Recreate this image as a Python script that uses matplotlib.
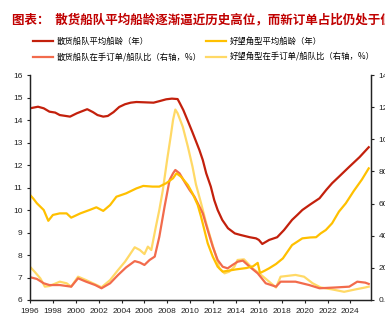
import matplotlib
matplotlib.use("Agg")
from matplotlib import pyplot as plt
from matplotlib.ticker import FormatStrFormatter

plt.rcParams['font.family'] = ['Noto Sans CJK SC', 'DejaVu Sans']

# 散货船队平均船龄（年）
red_x = [1996.0, 1996.7, 1997.2, 1997.7, 1998.2, 1998.6, 1999.5, 2000.1, 2000.6, 2001.0, 2001.5, 2001.9,
         2002.4, 2002.8, 2003.3, 2003.8, 2004.3, 2004.8, 2005.3, 2005.8, 2006.3, 2006.8, 2007.4, 2007.9,
         2008.4, 2008.9, 2009.1, 2009.4, 2009.8, 2010.2, 2010.8, 2011.1, 2011.4, 2011.8, 2012.1, 2012.4,
         2012.8, 2013.3, 2013.9, 2014.4, 2015.2, 2015.75, 2016.0, 2016.3, 2016.9, 2017.6, 2018.2, 2018.9,
         2019.4, 2019.8, 2020.5, 2021.3, 2021.9, 2022.4, 2023.0, 2023.9, 2024.8, 2025.6]
red_y = [14.52, 14.59, 14.52, 14.37, 14.33, 14.22, 14.15, 14.30, 14.40, 14.48, 14.35, 14.22,
         14.15, 14.18, 14.35, 14.58, 14.70, 14.77, 14.80, 14.79, 14.78, 14.77, 14.85, 14.92,
         14.95, 14.93, 14.74, 14.44, 13.95, 13.45, 12.67, 12.22, 11.63, 11.04, 10.44, 10.0,
         9.56, 9.19, 8.96, 8.89, 8.79, 8.74, 8.67, 8.49, 8.67, 8.79, 9.11, 9.56,
         9.8, 10.0, 10.25, 10.52, 10.9, 11.19, 11.48, 11.92, 12.35, 12.79]

# 好望角型平均船龄（年）
gold_x = [1996.0, 1996.3, 1996.6, 1997.2, 1997.6, 1998.0, 1998.6, 1999.2, 1999.6, 2000.4, 2001.2, 2001.8,
          2002.4, 2003.0, 2003.55, 2004.4, 2005.3, 2005.9, 2006.7, 2007.3, 2007.9, 2008.5, 2008.8, 2009.2,
          2009.8, 2010.2, 2010.66, 2010.95, 2011.24, 2011.53, 2011.97, 2012.4, 2012.84, 2013.3, 2014.0,
          2014.9, 2015.5, 2015.9, 2016.1, 2016.5, 2016.9, 2017.5, 2018.1, 2018.9, 2019.8, 2020.5, 2021.0,
          2021.4, 2021.85, 2022.4, 2023.0, 2023.6, 2024.3, 2025.0, 2025.6]
gold_y = [10.67, 10.5, 10.30, 10.0, 9.52, 9.78, 9.85, 9.85, 9.66, 9.85, 10.0, 10.12,
          9.96, 10.22, 10.59, 10.74, 10.96, 11.07, 11.04, 11.04, 11.19, 11.41, 11.63, 11.48,
          11.11, 10.74, 10.22, 9.70, 9.11, 8.52, 7.93, 7.48, 7.26, 7.3, 7.36,
          7.42, 7.5, 7.65, 7.2, 7.3, 7.41, 7.6, 7.85, 8.44, 8.74, 8.78, 8.79,
          8.96, 9.11, 9.41, 9.93, 10.3, 10.85, 11.35, 11.85]

# 散货船队在手订单/船队比（右轴，%）
sal_x = [1996.0, 1996.6, 1997.2, 1997.7, 1998.6, 1999.2, 1999.6, 2000.2, 2000.9, 2001.7, 2002.25, 2003.0,
         2003.7, 2004.4, 2005.15, 2005.6, 2006.0, 2006.45, 2006.9, 2007.3, 2007.76, 2008.2, 2008.5, 2008.7,
         2009.07, 2009.5, 2009.94, 2010.37, 2010.66, 2011.1, 2011.53, 2011.97, 2012.4, 2012.84, 2013.27,
         2013.7, 2014.14, 2014.6, 2015.2, 2015.9, 2016.6, 2017.5, 2017.9, 2019.2, 2020.4, 2021.3, 2022.7,
         2023.9, 2024.6, 2025.3, 2025.6]
sal_y = [14.2, 13.1, 10.4, 9.3, 9.3, 8.7, 8.3, 13.5, 11.4, 9.3, 7.3, 10.4,
         15.6, 20.3, 24.2, 23.3, 21.8, 24.9, 27.0, 39.3, 58.1, 74.7, 78.8, 80.9,
         78.8, 73.6, 68.5, 64.3, 60.2, 53.9, 43.5, 33.2, 24.9, 20.7, 19.7,
         21.8, 23.8, 24.5, 20.7, 16.6, 10.4, 8.3, 11.4, 11.4, 9.3, 7.3, 7.8,
         8.3, 11.4, 10.8, 10.0]

# 好望角型在手订单/船队比（右轴，%）
ly_x = [1996.0, 1996.4, 1996.9, 1997.3, 1997.7, 1998.6, 1999.2, 1999.6, 2000.2, 2000.9, 2001.5, 2002.25,
        2003.0, 2003.7, 2004.3, 2004.7, 2005.15, 2005.6, 2006.0, 2006.3, 2006.6, 2007.0, 2007.3, 2007.6,
        2008.0, 2008.3, 2008.5, 2008.7, 2008.9, 2009.35, 2009.8, 2010.2, 2010.5, 2010.95, 2011.4, 2011.83,
        2012.26, 2012.55, 2013.0, 2013.4, 2013.86, 2014.14, 2014.7, 2015.45, 2016.2, 2016.9, 2017.5, 2017.9,
        2019.2, 2019.95, 2020.7, 2021.4, 2022.4, 2023.45, 2024.45, 2025.3, 2025.6]
ly_y = [20.7, 17.6, 13.5, 8.3, 8.7, 11.4, 10.4, 8.3, 14.5, 12.4, 10.4, 7.9,
        12.4, 18.7, 23.8, 28.0, 32.8, 31.1, 28.6, 33.2, 31.1, 45.6, 56.0, 68.0,
        88.0, 102.0, 112.0, 118.5, 116.2, 107.8, 95.3, 83.0, 72.0, 60.2, 47.7, 37.3,
        27.0, 19.7, 16.6, 17.6, 20.7, 24.9, 25.3, 19.7, 15.6, 11.4, 7.8, 14.5,
        15.6, 14.5, 10.4, 7.8, 6.6, 5.1, 6.6, 7.8, 8.3]

years = list(range(1996, 2025, 2))
left_ticks = list(range(6, 17))
right_ticks = list(range(0, 141, 20))

fig = plt.figure(figsize=(3.85, 3.32), dpi=100)
ax = fig.add_axes([30/385, 32/332, 341/385, 225/332])
ax2 = ax.twinx()

c_red = '#C3200C'
c_gold = '#FFC000'
c_sal = '#F26B4C'
c_ly = '#FFD966'

l3, = ax2.plot(ly_x, ly_y, color=c_ly, lw=1.6)
l4, = ax2.plot(sal_x, sal_y, color=c_sal, lw=1.6)
l2, = ax.plot(gold_x, gold_y, color=c_gold, lw=1.6)
l1, = ax.plot(red_x, red_y, color=c_red, lw=1.6)
ax.set_zorder(ax2.get_zorder() + 1)
ax.patch.set_visible(False)

ax.set_xlim(1996, 2025.8)
ax.set_ylim(6, 16)
ax2.set_ylim(0, 140)
ax.set_xticks(years)
ax.set_yticks(left_ticks)
ax2.set_yticks(right_ticks)
ax2.yaxis.set_major_formatter(FormatStrFormatter('%.1f'))

for a in (ax, ax2):
    a.spines['top'].set_visible(False)
    for s in a.spines.values():
        s.set_linewidth(0.9)
        s.set_color('#222222')
    a.tick_params(direction='out', length=2.5, width=0.8, labelsize=6, pad=3, colors='#222222')
    for lab in a.get_xticklabels() + a.get_yticklabels():
        lab.set_family('Liberation Sans')

fig.text(12/385, 1 - 20/332, '图表：  散货船队平均船龄逐渐逼近历史高位，而新订单占比仍处于低位',
         color='#C00000', fontsize=9, fontweight='bold', va='center', ha='left')

fig.legend([l1, l4, l2, l3],
           ['散货船队平均船龄（年）', '散货船队在手订单/船队比（右轴，%）',
            '好望角型平均船龄（年）', '好望角型在手订单/船队比（右轴，%）'],
           loc='upper left', bbox_to_anchor=(33/385, 1 - 37/332), ncol=2, frameon=False,
           fontsize=6, borderpad=0, borderaxespad=0, handlelength=2.4, handletextpad=0.4,
           columnspacing=0.6, labelspacing=0.8)

fig.savefig('out.png', dpi=100)
